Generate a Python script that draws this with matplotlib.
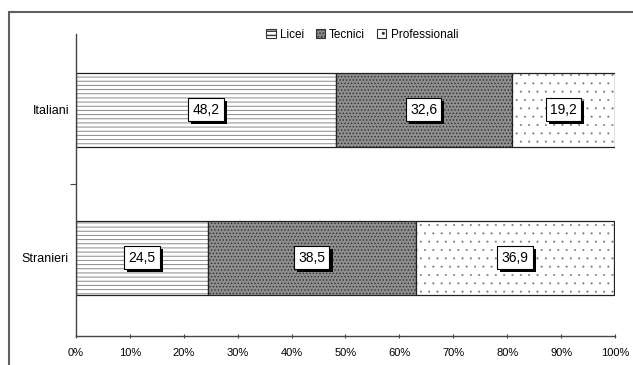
import matplotlib
matplotlib.use("Agg")
import matplotlib.pyplot as plt
import matplotlib.patheffects as pe
from matplotlib.patches import Patch, Rectangle
from matplotlib.ticker import PercentFormatter

# Dati (percentuali per tipo di scuola)
groups = ["Stranieri", "Italiani"]
series = ["Licei", "Tecnici", "Professionali"]
licei = [24.5, 48.2]
tecnici = [38.5, 32.6]
professionali = [36.9, 19.2]

plt.rcParams['font.family'] = ['Liberation Sans', 'DejaVu Sans']

styles = [
    dict(facecolor='white', hatch='----', hcolor='#8a8a8a', hlw=0.7),
    dict(facecolor='#8e8e8e', hatch='.....', hcolor='#2e2e2e', hlw=0.6),
    dict(facecolor='white', hatch='..', hcolor='#7a7a7a', hlw=0.25),
]

fig = plt.figure(figsize=(6.33, 3.65), dpi=100)
ax = fig.add_axes([0.120, 0.0795, 0.8516, 0.8273])

# cornice esterna
fig.patches.append(Rectangle((9 / 633, -0.1), 1.2, 1.1 - 12 / 365,
                             transform=fig.transFigure, fill=False,
                             edgecolor='#606060', linewidth=1.5))

ypos = list(range(len(groups)))
left = [0.0] * len(groups)
all_vals = [licei, tecnici, professionali]
height = 0.5
for vals, st in zip(all_vals, styles):
    with plt.rc_context({'hatch.linewidth': st['hlw']}):
        ax.barh(ypos, vals, left=left, height=height, color=st['facecolor'],
                hatch=st['hatch'], edgecolor=st['hcolor'], linewidth=0)
    ax.barh(ypos, vals, left=left, height=height, fill=False,
            edgecolor='#222222', linewidth=0.9)
    for y, v, l in zip(ypos, vals, left):
        label = f"{v:.1f}".replace('.', ',')
        t = ax.text(l + v / 2, y, label, ha='center', va='center', fontsize=10,
                    color='black',
                    bbox=dict(boxstyle='square,pad=0.3', facecolor='white',
                              edgecolor='black', linewidth=0.8))
        t.get_bbox_patch().set_path_effects([
            pe.SimplePatchShadow(offset=(2.2, -2.2), shadow_rgbFace='black', alpha=1.0),
            pe.Normal()])
    left = [a + b for a, b in zip(left, vals)]

ax.set_xlim(0, 100)
ax.set_ylim(-0.53, 1.51)
ax.xaxis.set_major_formatter(PercentFormatter(decimals=0))
ax.set_xticks(range(0, 101, 10))
ax.set_yticks([0.5], minor=False)
ax.set_yticklabels([])
ax.set_yticks(ypos, minor=True)
ax.set_yticklabels(groups, minor=True, fontsize=9)
ax.tick_params(axis='y', which='minor', length=0, pad=5)
ax.tick_params(axis='y', which='major', length=4, direction='out', color='#444444')
ax.tick_params(axis='x', length=3, direction='inout', color='#444444', labelsize=8, pad=7)

for s in ['top', 'right']:
    ax.spines[s].set_visible(False)
for s in ['left', 'bottom']:
    ax.spines[s].set_color('#444444')
    ax.spines[s].set_linewidth(1.0)

handles = []
for st in styles:
    with plt.rc_context({'hatch.linewidth': st['hlw']}):
        handles.append(Patch(facecolor=st['facecolor'], hatch=st['hatch'],
                             edgecolor='#333333', linewidth=0.8))
fig.legend(handles, series, loc='center', bbox_to_anchor=(0.572, 0.905), ncol=3,
           frameon=False, fontsize=8.5, handlelength=0.8, handleheight=0.8,
           handletextpad=0.35, columnspacing=1.0)

fig.savefig("out.png", dpi=100)
